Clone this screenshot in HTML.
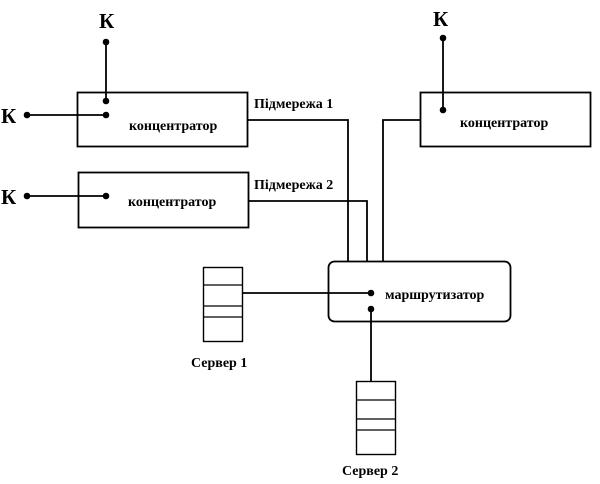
<!DOCTYPE html>
<html><head><meta charset="utf-8"><style>
html,body{margin:0;padding:0;background:#fff;width:600px;height:484px;overflow:hidden}
svg text{font-family:"Liberation Serif",serif;font-weight:bold;fill:#000}
</style></head><body>
<svg width="600" height="484" viewBox="0 0 600 484" xmlns="http://www.w3.org/2000/svg">
<g fill="none" stroke="#000" stroke-width="1.8">
<rect x="77.5" y="92.5" width="170" height="54"/>
<rect x="78.5" y="172.5" width="170" height="55"/>
<rect x="420.5" y="92.5" width="170" height="54"/>
<rect x="328.5" y="261.5" width="182" height="60" rx="6"/>
<path d="M106 42V101M27 115H106M27 196H106M443 38V110"/>
<path d="M248 120H348V261M248 201H367V261M420 120H383V261"/>
<path d="M242 293H370M371 309V381"/>
<rect x="203.5" y="267.5" width="39" height="74" stroke-width="1.4"/>
<path d="M203 285H242M203 306H242M203 317H242" stroke-width="1.2"/>
<rect x="356.5" y="381.5" width="39" height="73" stroke-width="1.4"/>
<path d="M356 400H395M356 419H395M356 430H395" stroke-width="1.2"/>
</g>
<g fill="#000">
<circle cx="106" cy="42" r="3.3"/><circle cx="106" cy="101" r="3.3"/>
<circle cx="27" cy="115" r="3.3"/><circle cx="106" cy="115" r="3.3"/>
<circle cx="27" cy="196" r="3.3"/><circle cx="106" cy="196" r="3.3"/>
<circle cx="443" cy="38" r="3.3"/><circle cx="443" cy="110" r="3.3"/>
<circle cx="371" cy="293" r="3.3"/><circle cx="371" cy="309" r="3.3"/>
</g>
<text x="99" y="28" font-size="21">К</text>
<text x="1" y="123" font-size="21">К</text>
<text x="1" y="204" font-size="21">К</text>
<text x="433" y="26" font-size="21">К</text>
<text x="129" y="130" font-size="14">концентратор</text>
<text x="128" y="206" font-size="14">концентратор</text>
<text x="460" y="127" font-size="14">концентратор</text>
<text x="385" y="299" font-size="14">маршрутизатор</text>
<text x="254" y="108" font-size="14">Підмережа 1</text>
<text x="254" y="189" font-size="14">Підмережа 2</text>
<text x="191" y="367" font-size="14">Сервер 1</text>
<text x="342" y="475" font-size="14">Сервер 2</text>
</svg>
</body></html>
